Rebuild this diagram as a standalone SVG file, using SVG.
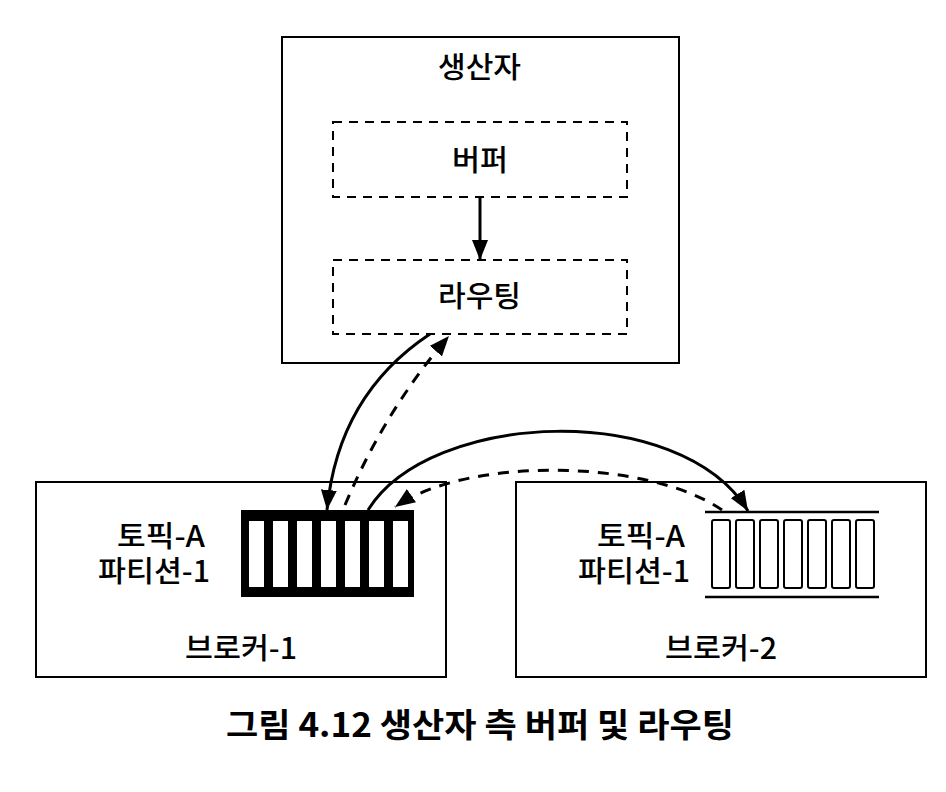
<svg xmlns="http://www.w3.org/2000/svg" width="946" height="792" viewBox="0 0 946 792">
<style>
.box{fill:#fff;stroke:#000;stroke-width:2}
.dbox{fill:none;stroke:#000;stroke-width:2;stroke-dasharray:9 7}
.t{font-family:"Noto Sans CJK KR","Noto Sans",sans-serif;font-size:29px;font-weight:500;fill:#000}
.cap{font-family:"Noto Sans CJK KR","Noto Sans",sans-serif;font-size:33px;font-weight:bold;fill:#000}
.c{fill:none;stroke:#000;stroke-width:3}
.d{fill:none;stroke:#000;stroke-width:3;stroke-dasharray:11 9}
.cell{fill:#fff}
.cell2{fill:#fff;stroke:#000;stroke-width:2}
</style>
<defs>
<marker id="ah" markerUnits="userSpaceOnUse" markerWidth="22" markerHeight="16" refX="20" refY="8" orient="auto">
<path d="M0,0 L20,8 L0,16 Z" fill="#000"/>
</marker>
</defs>
<g id="producer">
<rect class="box" x="282" y="37" width="397" height="326"/>
<text class="t" x="438" y="78" textLength="83" lengthAdjust="spacingAndGlyphs">생산자</text>
</g>
<g id="buffer">
<rect class="dbox" x="333" y="122" width="294" height="75"/>
<text class="t" x="452" y="171" textLength="56" lengthAdjust="spacingAndGlyphs">버퍼</text>
</g>
<g id="routing">
<rect class="dbox" x="333" y="260" width="294" height="74"/>
<text class="t" x="438" y="307" textLength="83" lengthAdjust="spacingAndGlyphs">라우팅</text>
</g>
<g id="broker1">
<rect class="box" x="36" y="482" width="410" height="195"/>
<text class="t" x="117" y="547" textLength="88" lengthAdjust="spacingAndGlyphs">토픽-A</text>
<text class="t" x="98" y="582" textLength="112" lengthAdjust="spacingAndGlyphs">파티션-1</text>
<text class="t" x="185" y="659" textLength="112" lengthAdjust="spacingAndGlyphs">브로커-1</text>
<rect x="241" y="510" width="173" height="87" fill="#000"/>
<rect class="cell" x="249" y="521" width="15" height="66"/>
<rect class="cell" x="273" y="521" width="15" height="66"/>
<rect class="cell" x="297" y="521" width="15" height="66"/>
<rect class="cell" x="321" y="521" width="15" height="66"/>
<rect class="cell" x="345" y="521" width="15" height="66"/>
<rect class="cell" x="369" y="521" width="15" height="66"/>
<rect class="cell" x="393" y="521" width="15" height="66"/>
</g>
<g id="broker2">
<rect class="box" x="516" y="482" width="410" height="195"/>
<text class="t" x="597" y="547" textLength="88" lengthAdjust="spacingAndGlyphs">토픽-A</text>
<text class="t" x="578" y="582" textLength="112" lengthAdjust="spacingAndGlyphs">파티션-1</text>
<text class="t" x="665" y="659" textLength="112" lengthAdjust="spacingAndGlyphs">브로커-2</text>
<line x1="705" y1="512" x2="879" y2="512" stroke="#000" stroke-width="2.5"/>
<line x1="705" y1="597" x2="879" y2="597" stroke="#000" stroke-width="2.5"/>
<rect class="cell2" x="712" y="520" width="18" height="68" rx="2"/>
<rect class="cell2" x="736" y="520" width="18" height="68" rx="2"/>
<rect class="cell2" x="760" y="520" width="18" height="68" rx="2"/>
<rect class="cell2" x="784" y="520" width="18" height="68" rx="2"/>
<rect class="cell2" x="808" y="520" width="18" height="68" rx="2"/>
<rect class="cell2" x="832" y="520" width="18" height="68" rx="2"/>
<rect class="cell2" x="856" y="520" width="18" height="68" rx="2"/>
</g>
<g id="connectors">
<line class="c" x1="480" y1="197" x2="480" y2="260" marker-end="url(#ah)"/>
<path class="c" d="M430,334 Q338,395 327,510" marker-end="url(#ah)"/>
<path class="d" d="M345,505 Q385,410 449,336" marker-end="url(#ah)"/>
<path class="c" d="M368,510 C430,410 680,400 748,511" marker-end="url(#ah)"/>
<path class="d" d="M722,510 C650,460 470,455 395,507" marker-end="url(#ah)"/>
</g>
<g id="caption">
<text class="cap" x="226" y="737" textLength="508" lengthAdjust="spacingAndGlyphs">그림 4.12 생산자 측 버퍼 및 라우팅</text>
</g>
</svg>
